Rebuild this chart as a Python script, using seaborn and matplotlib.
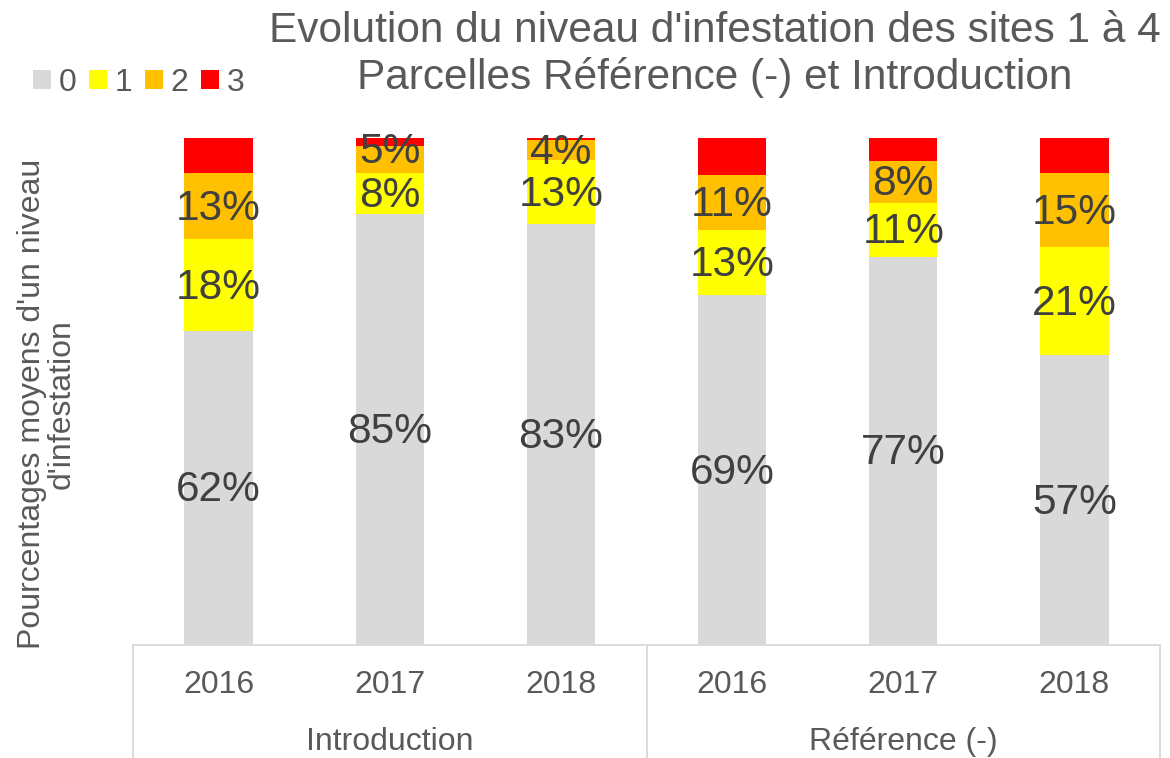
import matplotlib
matplotlib.use("Agg")
import matplotlib.pyplot as plt
import seaborn as sns
import pandas as pd
import numpy as np
from matplotlib.patches import Patch
import matplotlib.transforms as mtransforms

groups = ["Introduction", "Introduction", "Introduction",
          "Référence (-)", "Référence (-)", "Référence (-)"]
years = ["2016", "2017", "2018", "2016", "2017", "2018"]
level0 = [62.0, 85.0, 83.0, 69.0, 76.6, 57.2]
level1 = [18.0, 8.0, 12.6, 12.8, 10.6, 21.3]
level2 = [13.0, 5.4, 4.0, 10.9, 8.3, 14.6]
level3 = [7.0, 1.6, 0.4, 7.3, 4.5, 6.9]
levels = ["0", "1", "2", "3"]
colors = ["#D9D9D9", "#FFFF00", "#FFC000", "#FF0000"]
title_lines = ["Evolution du niveau d'infestation des sites 1 à 4",
               "Parcelles Référence (-) et Introduction"]
ylabel = "Pourcentages moyens d'un niveau\nd'infestation"

sns.set_theme(style="white")
plt.rcParams['font.family'] = ['Liberation Sans', 'DejaVu Sans']

keys = [f"{g} {y}" for g, y in zip(groups, years)]
series = [level0, level1, level2, level3]
cum = np.cumsum(np.array(series), axis=0)

fig = plt.figure(figsize=(11.7, 7.58), dpi=100)
ax = fig.add_axes([133/1170, 1-645/758, (1160-133)/1170, (645-138)/758])

# draw from top of stack down so lower layers cover upper ones
for i in range(3, -1, -1):
    df = pd.DataFrame({"key": keys, "val": cum[i]})
    sns.barplot(data=df, x="key", y="val", order=keys, color=colors[i],
                width=0.4, saturation=1, ax=ax, edgecolor="none", linewidth=0)

ax.set_ylim(0, 100)
ax.set_xlim(-0.5, 5.5)
ax.set_yticks([])
ax.set_ylabel("")
ax.set_xlabel("")
for s in ["top", "right", "left"]:
    ax.spines[s].set_visible(False)
ax.spines["bottom"].set_color("#D9D9D9")
ax.spines["bottom"].set_linewidth(1.3)

ax.set_xticks(range(6))
ax.set_xticklabels(years, fontsize=23, color="#595959")
ax.tick_params(axis="x", length=0, pad=18)

# data labels for levels 0, 1, 2
label_nudge = {(2, 1): 2.0}  # small upward shift of a crowded label
for i in range(3):
    bottoms = cum[i] - np.array(series[i])
    for j in range(6):
        v = series[i][j]
        yy = bottoms[j] + v / 2 - 0.5 + label_nudge.get((i, j), 0.0)
        ax.text(j, yy, f"{int(round(v))}%", ha="center", va="center",
                fontsize=30.5, color="#404040")

# group labels and separators
trans = mtransforms.blended_transform_factory(ax.transData, ax.transAxes)
for gx, gname in [(1, "Introduction"), (4, "Référence (-)")]:
    ax.text(gx, -0.192, gname, transform=trans, ha="center", va="center",
            fontsize=23, color="#595959")
for xv in [-0.5, 2.5, 5.5]:
    ax.plot([xv, xv], [0, -0.23], transform=trans, color="#D9D9D9", lw=1.3,
            clip_on=False)

# y label
fig.text(47/1170, 1-404/758, ylabel, rotation=90, ha="center", va="center",
         fontsize=23, color="#595959", multialignment="center", linespacing=1.0)

# title
fig.text(715/1170, 1-31/758, title_lines[0], ha="center", va="center",
         fontsize=30.5, color="#595959")
fig.text(715/1170, 1-78/758, title_lines[1], ha="center", va="center",
         fontsize=30.5, color="#595959")

# legend
handles = [Patch(facecolor=c, edgecolor="none", label=l) for c, l in zip(colors, levels)]
fig.legend(handles=handles, loc="center left", bbox_to_anchor=(33/1170, 1-83/758),
           ncol=4, frameon=False, fontsize=23, handlelength=0.55, handleheight=0.55,
           handletextpad=0.25, columnspacing=0.4, labelcolor="#595959",
           borderaxespad=0, borderpad=0)

fig.savefig("out.png", dpi=100)
